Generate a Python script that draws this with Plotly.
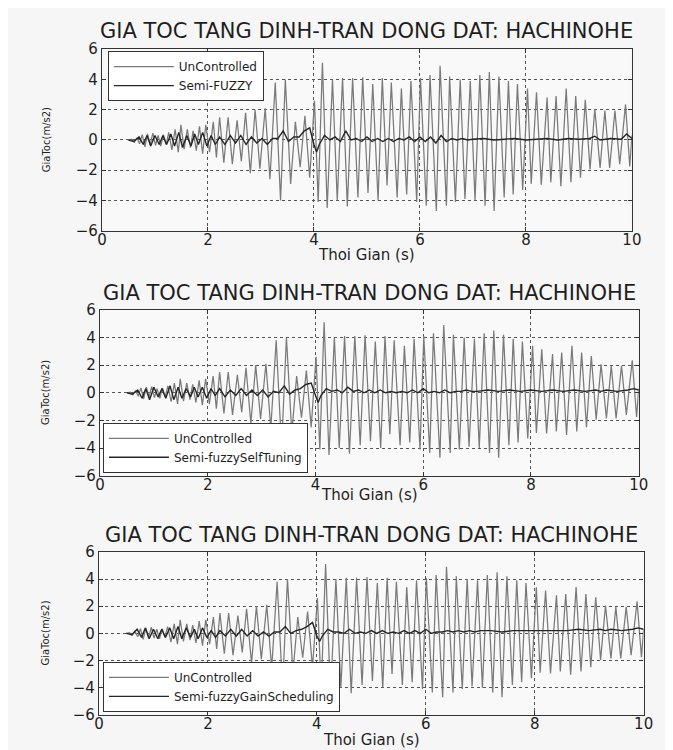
import plotly.graph_objects as go

# ---------------- data ----------------
title_text = "GIA TOC TANG DINH-TRAN DONG DAT: HACHINOHE"
x_label = "Thoi Gian (s)"
y_label = "GiaToc(m/s2)"
x_ticks = [0, 2, 4, 6, 8, 10]
y_ticks = [-6, -4, -2, 0, 2, 4, 6]

# uncontrolled response: extrema (time s, acceleration m/s2)
t_unc = [0.50, 0.56, 0.61, 0.66, 0.71, 0.76, 0.81, 0.86, 0.91, 0.96, 1.01, 1.06, 1.11, 1.16,
         1.21, 1.26, 1.32, 1.38, 1.44, 1.49, 1.55, 1.61, 1.67, 1.72, 1.78, 1.84, 1.90, 1.96,
         2.03, 2.10, 2.16, 2.22, 2.30, 2.38, 2.46, 2.55, 2.63, 2.71, 2.80, 2.89, 2.98, 3.08,
         3.17, 3.27, 3.37, 3.46, 3.56, 3.65, 3.74, 3.83, 3.92, 4.01, 4.08, 4.16, 4.25, 4.35,
         4.44, 4.54, 4.63, 4.73, 4.83, 4.92, 5.02, 5.11, 5.21, 5.29, 5.38, 5.46, 5.57, 5.65,
         5.75, 5.83, 5.94, 6.01, 6.12, 6.19, 6.31, 6.38, 6.50, 6.56, 6.67, 6.76, 6.85, 6.95,
         7.04, 7.13, 7.23, 7.31, 7.40, 7.49, 7.59, 7.67, 7.76, 7.84, 7.94, 8.03, 8.10, 8.20,
         8.29, 8.40, 8.47, 8.57, 8.66, 8.76, 8.85, 8.94, 9.03, 9.12, 9.21, 9.30, 9.40, 9.49,
         9.58, 9.68, 9.77, 9.88, 9.96, 10.0]
a_unc = [0.0, 0.05, -0.15, 0.15, -0.25, 0.35, -0.45, 0.4, -0.3, 0.45, -0.35, 0.3, -0.4, 0.35,
         -0.3, 0.5, -0.65, 0.7, -0.8, 1.0, -0.6, 0.7, -0.5, 0.6, -0.7, 0.9, -0.9, 1.0,
         -0.8, 1.2, -1.15, 1.5, -1.5, 1.5, -1.6, 1.3, -1.4, 1.8, -2.2, 2.0, -1.9, 2.1,
         -2.6, 3.8, -4.0, 4.0, -2.9, 1.2, -1.8, 1.6, -2.5, 2.6, -4.1, 5.1, -4.5, 4.0,
         -4.0, 4.1, -4.4, 4.1, -3.8, 4.15, -3.5, 3.7, -4.0, 4.1, -3.0, 3.8, -3.8, 3.4,
         -3.6, 3.9, -4.1, 4.1, -4.35, 4.3, -4.7, 4.9, -4.35, 4.2, -4.1, 4.0, -3.9, 3.9,
         -4.0, 4.3, -4.35, 4.5, -4.7, 4.2, -3.8, 3.9, -3.6, 3.7, -3.3, 3.4, -2.9, 3.15,
         -2.95, 2.8, -2.8, 2.9, -3.05, 3.4, -2.8, 2.9, -2.5, 2.65, -1.95, 2.05, -1.85, 1.95,
         -1.85, 1.95, -1.6, 2.35, -1.75, 0.3]

# controlled responses (time s, acceleration m/s2)
t_ctl = [0.50, 0.60, 0.70, 0.78, 0.85, 0.92, 1.00, 1.08, 1.15, 1.22, 1.30, 1.37, 1.45, 1.52,
         1.60, 1.68, 1.75, 1.82, 1.90, 1.98, 2.06, 2.14, 2.22, 2.32, 2.42, 2.52, 2.62, 2.72,
         2.82, 2.92, 3.02, 3.12, 3.22, 3.32, 3.42, 3.52, 3.62, 3.72, 3.82, 3.92, 4.00, 4.05,
         4.10, 4.20, 4.30, 4.40, 4.50, 4.60, 4.70, 4.80, 4.90, 5.00, 5.10, 5.20, 5.30, 5.40,
         5.50, 5.60, 5.70, 5.80, 5.90, 6.00, 6.10, 6.20, 6.30, 6.40, 6.50, 6.60, 6.70, 6.80,
         6.90, 7.00, 7.20, 7.40, 7.60, 7.80, 8.00, 8.20, 8.40, 8.60, 8.80, 9.00, 9.20, 9.30,
         9.40, 9.60, 9.80, 9.90, 10.0]
a_fuzzy = [0.0, -0.1, 0.2, -0.3, 0.3, -0.4, 0.3, -0.3, 0.3, -0.3, 0.4, -0.4, 0.5, -0.5,
           0.3, -0.4, 0.4, -0.3, 0.5, -0.4, 0.3, -0.3, 0.2, -0.3, 0.3, -0.2, 0.3, -0.3,
           0.2, -0.2, 0.1, -0.3, 0.1, 0.1, 0.6, -0.1, 0.2, 0.2, 0.6, 0.8, -0.3, -0.8,
           -0.3, 0.3, 0.0, 0.2, -0.1, 0.6, 0.0, 0.1, -0.1, 0.2, -0.1, 0.1, -0.1, 0.1,
           -0.1, 0.1, 0.0, 0.2, -0.1, 0.2, -0.1, 0.2, -0.2, 0.3, -0.1, 0.1, 0.0, 0.1,
           0.0, 0.05, 0.1, 0.0, 0.05, 0.1, 0.0, 0.05, 0.1, 0.0, 0.1, 0.05, 0.1, 0.25,
           0.0, 0.1, 0.05, 0.4, 0.1]
a_selftuning = [0.0, -0.1, 0.2, -0.4, 0.3, -0.5, 0.4, -0.3, 0.3, -0.4, 0.5, -0.5, 0.4, -0.4,
                0.3, -0.3, 0.4, -0.3, 0.4, -0.4, 0.3, -0.2, 0.3, -0.3, 0.2, -0.2, 0.3, -0.2,
                0.2, -0.2, 0.2, -0.3, 0.1, 0.0, 0.5, -0.1, 0.2, 0.3, 0.6, 0.7, -0.2, -0.7,
                -0.2, 0.3, 0.1, 0.2, 0.0, 0.4, 0.1, 0.2, 0.0, 0.2, 0.0, 0.2, 0.0, 0.1,
                0.0, 0.1, 0.0, 0.2, 0.0, 0.3, 0.0, 0.1, 0.0, 0.2, 0.0, 0.1, 0.1, 0.2,
                0.1, 0.1, 0.2, 0.1, 0.2, 0.1, 0.2, 0.1, 0.2, 0.1, 0.2, 0.1, 0.2, 0.1,
                0.2, 0.1, 0.2, 0.3, 0.2]
a_gainsched = [0.0, -0.1, 0.3, -0.3, 0.4, -0.4, 0.3, -0.4, 0.3, -0.3, 0.4, -0.4, 0.5, -0.4,
               0.4, -0.3, 0.3, -0.4, 0.4, -0.3, 0.2, -0.3, 0.2, -0.2, 0.3, -0.2, 0.3, -0.2,
               0.2, -0.2, 0.1, -0.2, 0.1, 0.1, 0.5, 0.0, 0.2, 0.3, 0.5, 0.8, -0.2, -0.6,
               -0.2, 0.3, 0.1, 0.1, 0.0, 0.3, 0.0, 0.1, 0.0, 0.2, 0.0, 0.2, 0.0, 0.1,
               0.0, 0.2, 0.0, 0.2, 0.0, 0.3, 0.0, 0.1, 0.1, 0.2, 0.1, 0.2, 0.1, 0.2,
               0.1, 0.2, 0.2, 0.1, 0.2, 0.2, 0.2, 0.2, 0.2, 0.2, 0.3, 0.2, 0.3, 0.2,
               0.3, 0.2, 0.3, 0.4, 0.3]

ctl_names = ["Semi-FUZZY", "Semi-fuzzySelfTuning", "Semi-fuzzyGainScheduling"]
ctl_values = [a_fuzzy, a_selftuning, a_gainsched]

# ---------------- layout ----------------
W, H = 673, 750
FONT = "DejaVu Sans, Liberation Sans, Arial, sans-serif"
INK = "#1e1e1e"
panels_px = [  # left, right, top, bottom of each plot box
    (91, 633, 33, 219),
    (89, 640, 300, 470),
    (88, 645, 548, 715),
]
title_y = [14, 283, 531]
xlabel_y = [244, 490, 741]
ylabel_x = [35, 33, 33]
legend_anchor = [  # x_left_px, y_px, yanchor
    (97, 35, "top"),
    (92, 467, "bottom"),
    (92, 712, "bottom"),
]

fig = go.Figure()

for i in range(3):
    xa = "x" if i == 0 else f"x{i+1}"
    ya = "y" if i == 0 else f"y{i+1}"
    leg = "legend" if i == 0 else f"legend{i+1}"
    fig.add_trace(go.Scatter(x=t_unc, y=a_unc, mode="lines", name="UnControlled",
                             line=dict(color="#7a7a7a", width=1.25),
                             xaxis=xa, yaxis=ya, legend=leg))
    fig.add_trace(go.Scatter(x=t_ctl, y=ctl_values[i], mode="lines", name=ctl_names[i],
                             line=dict(color="#262626", width=1.4),
                             xaxis=xa, yaxis=ya, legend=leg))

axis_common = dict(showline=True, linecolor="#333", linewidth=1.3, mirror="ticks",
                   ticks="inside", ticklen=4, tickcolor="#333",
                   showgrid=True, gridcolor="#555", griddash="dot", gridwidth=1,
                   zeroline=False, tickfont=dict(family=FONT, size=15, color=INK))

layout = dict(width=W, height=H, margin=dict(l=0, r=0, t=0, b=0),
              paper_bgcolor="#f6f6f6", plot_bgcolor="#f9f9f9",
              font=dict(family=FONT, color=INK), annotations=[])

for i, (lp, rp, top, bot) in enumerate(panels_px):
    sx = "" if i == 0 else str(i + 1)
    layout[f"xaxis{sx}"] = dict(axis_common, domain=[lp / W, rp / W], range=[0, 10],
                                tickvals=x_ticks, anchor=f"y{sx}", ticklabelstandoff=-5)
    layout[f"yaxis{sx}"] = dict(axis_common, domain=[1 - bot / H, 1 - top / H], range=[-6, 6],
                                tickvals=y_ticks, anchor=f"x{sx}")
    # panel title
    layout["annotations"].append(dict(text=title_text, x=(lp + rp) / 2 / W,
                                      y=1 - title_y[i] / H, xref="paper", yref="paper",
                                      xanchor="center", yanchor="middle", showarrow=False,
                                      font=dict(family=FONT, size=21, color=INK)))
    # x label
    layout["annotations"].append(dict(text=x_label, x=(lp + rp) / 2 / W,
                                      y=1 - xlabel_y[i] / H, xref="paper", yref="paper",
                                      xanchor="center", yanchor="middle", showarrow=False,
                                      font=dict(family=FONT, size=15, color=INK)))
    # y label
    layout["annotations"].append(dict(text=y_label, x=ylabel_x[i] / W,
                                      y=1 - (top + bot) / 2 / H, xref="paper", yref="paper",
                                      xanchor="center", yanchor="middle", showarrow=False,
                                      textangle=-90,
                                      font=dict(family=FONT, size=10, color=INK)))
    lx, ly, yanc = legend_anchor[i]
    lkey = "legend" if i == 0 else f"legend{i+1}"
    layout[lkey] = dict(x=lx / W, y=1 - ly / H, xref="paper", yref="paper",
                        xanchor="left", yanchor=yanc, bgcolor="#ffffff",
                        bordercolor="#333", borderwidth=1,
                        font=dict(family=FONT, size=12, color=INK),
                        itemwidth=60, tracegroupgap=0)

fig.update_layout(**layout)
fig.update_layout(showlegend=True)
fig.write_html("out.html")
